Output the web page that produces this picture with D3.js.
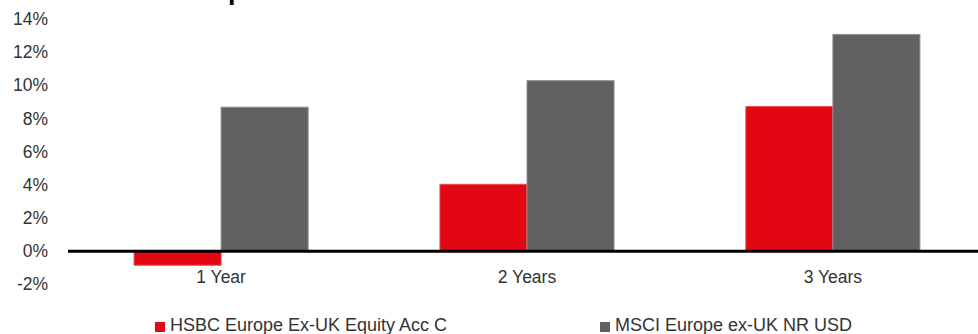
<!DOCTYPE html>
<html>
<head>
<meta charset="utf-8">
<script src="https://cdn.jsdelivr.net/npm/d3@7"></script>
<style>
  html, body { margin: 0; padding: 0; background: #fff; }
  svg { display: block; font-family: "Liberation Sans", Arial, sans-serif; }
</style>
</head>
<body>
<div id="chart"></div>
<script>
// chart data
const categories = ["1 Year", "2 Years", "3 Years"];
const seriesNames = ["HSBC Europe Ex-UK Equity Acc C", "MSCI Europe ex-UK NR USD"];
const fundValues = [-0.85, 4.03, 8.72];
const benchValues = [8.68, 10.28, 13.07];
const yTicks = [-2, 0, 2, 4, 6, 8, 10, 12, 14];

const width = 978, height = 334;
const colors = ["#e30613", "#616161"];
const edges = ["#ea4a53", "#8e8e8e"];

const svg = d3.select("#chart").append("svg")
  .attr("width", width)
  .attr("height", height);

// title sits mostly above the frame, only its descenders show
svg.append("text")
  .attr("x", 0)
  .attr("y", -1.5)
  .attr("font-size", 27)
  .attr("font-weight", "bold")
  .attr("fill", "#000")
  .text("Performance compared to benchmark");

// bands run past the right edge a bit, like the original
const x = d3.scaleBand()
  .domain(categories)
  .range([68, 986])
  .paddingInner(0.431)
  .paddingOuter(0.216);

const xSub = d3.scaleBand()
  .domain([0, 1])
  .range([0, x.bandwidth()]);

const y = d3.scaleLinear()
  .domain([-2, 14])
  .range([284.3, 19]);

// y tick labels
const yAxis = svg.append("g")
  .attr("transform", "translate(48,0)")
  .call(d3.axisLeft(y).tickValues(yTicks).tickSize(0).tickPadding(0).tickFormat(d => d + "%"));
yAxis.select(".domain").remove();
yAxis.selectAll("text")
  .attr("font-size", 17.5)
  .attr("font-family", "Liberation Sans, Arial, sans-serif")
  .attr("fill", "#333");

// bars
const rows = categories.map((c, i) => ({ cat: c, vals: [fundValues[i], benchValues[i]] }));
const groups = svg.append("g").selectAll("g")
  .data(rows)
  .join("g")
  .attr("transform", d => `translate(${x(d.cat)},0)`);

groups.selectAll("rect")
  .data(d => d.vals.map((v, k) => ({ v, k })))
  .join("rect")
  .attr("x", d => xSub(d.k))
  .attr("y", d => y(Math.max(0, d.v)))
  .attr("width", xSub.bandwidth())
  .attr("height", d => Math.abs(y(d.v) - y(0)))
  .attr("fill", d => colors[d.k])
  .attr("stroke", d => edges[d.k])
  .attr("stroke-width", 1);

// zero line
svg.append("line")
  .attr("x1", 68)
  .attr("x2", 978)
  .attr("y1", y(0))
  .attr("y2", y(0))
  .attr("stroke", "#000")
  .attr("stroke-width", 3);

// category labels
svg.append("g").selectAll("text")
  .data(categories)
  .join("text")
  .attr("x", d => x(d) + x.bandwidth() / 2)
  .attr("y", 283)
  .attr("text-anchor", "middle")
  .attr("font-size", 17.5)
  .attr("fill", "#333")
  .text(d => d);

// legend
const legendX = [155, 600];
const legend = svg.append("g").selectAll("g")
  .data(seriesNames)
  .join("g")
  .attr("transform", (d, i) => `translate(${legendX[i]},0)`);

legend.append("rect")
  .attr("x", 0)
  .attr("y", 322)
  .attr("width", 10)
  .attr("height", 10)
  .attr("fill", (d, i) => colors[i]);

legend.append("text")
  .attr("x", 15)
  .attr("y", 331)
  .attr("font-size", 18)
  .attr("fill", "#333")
  .text(d => d);
</script>
</body>
</html>
